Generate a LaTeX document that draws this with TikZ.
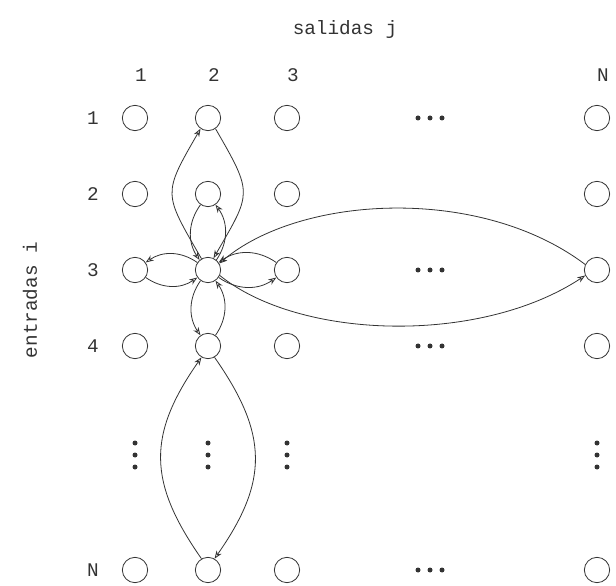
\documentclass[tikz,border=0pt]{standalone}
\usepackage{fontspec}
\setmainfont{Liberation Mono}
\usetikzlibrary{arrows.meta}
\definecolor{ink}{gray}{0.2}
\begin{document}
\begin{tikzpicture}[x=0.75pt,y=0.75pt,
  cell/.style={circle,draw=ink,line width=0.6pt,minimum size=19pt,inner sep=0pt},
  lbl/.style={text=ink,inner sep=0pt,font=\fontsize{14.5}{17}\selectfont},
  link/.style={draw=ink,line width=0.6pt,-{Stealth[open,length=6pt,width=4.5pt]}}]
\useasboundingbox (0,0) rectangle (616,585);

% grid of switching points
\foreach \c/\x in {1/135,2/208,3/287,N/597}
  \foreach \r/\y in {1/467,2/391,3/315,4/239,N/15}
    \node[cell] (n\c\r) at (\x,\y) {};

% ellipsis dots along rows and columns
\foreach \y in {467,315,239,15}
  \foreach \d in {-12,0,12}
    \fill[ink] (430+\d,\y) circle (2.5);
\foreach \x in {135,208,287,597}
  \foreach \d in {-12,0,12}
    \fill[ink] (\x,130+\d) circle (2.5);

% headings
\node[lbl] (tout) at (345,555) {salidas j};
\node[lbl,rotate=90] (tin) at (30,285) {entradas i};
\foreach \c/\x in {1/135,2/208,3/287,N/597}
  \node[lbl] (col\c) at (\x+6,510) {\c};
\foreach \r/\y in {1/467,2/391,3/315,4/239,N/15}
  \node[lbl] (row\r) at (93,\y) {\r};

% connections of the point (3,2)
\draw[link] (n23.120) to[out=120,in=240,looseness=1.5] (n21.235);
\draw[link] (n21.-55) to[out=-60,in=60,looseness=1.5] (n23.65);
\draw[link] (n22.235) to[bend right=35] (n23.130);
\draw[link] (n23.50) to[bend right=35] (n22.-55);
\draw[link] (n23.145) to[bend right=35] (n13.35);
\draw[link] (n13.-35) to[bend right=35] (n23.215);
\draw[link] (n33.145) to[bend right=35] (n23.35);
\draw[link] (n23.-35) to[bend right=35] (n33.215);
\draw[link] (n23.235) to[bend right=35] (n24.125);
\draw[link] (n24.55) to[bend right=35] (n23.-55);
\draw[link] (n24.-60) to[out=-55,in=55,looseness=1.2] (n2N.60);
\draw[link] (n2N.120) to[out=125,in=235,looseness=1.2] (n24.240);
\draw[link] (nN3.155) .. controls (480,400) and (300,390) .. (n23.30);
\draw[link] (n23.-25) .. controls (300,245) and (480,240) .. (nN3.205);
\end{tikzpicture}
\end{document}
